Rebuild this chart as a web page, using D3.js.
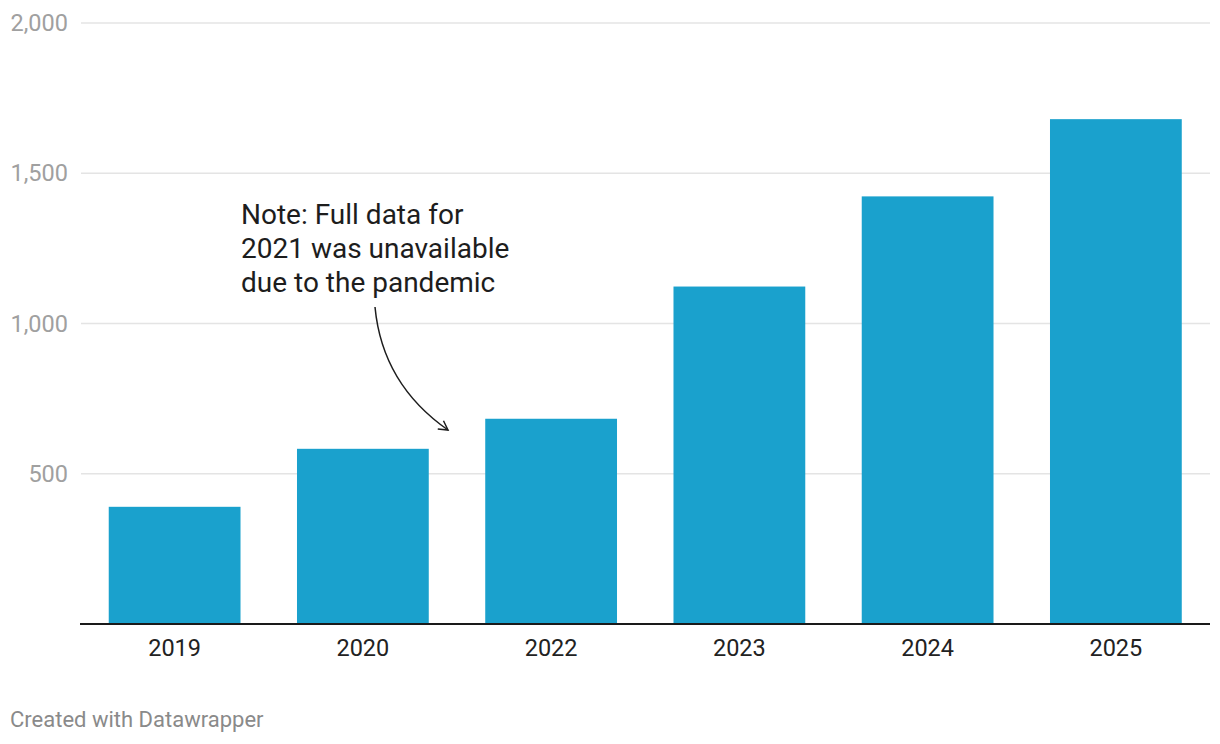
<!DOCTYPE html>
<html>
<head>
<meta charset="utf-8">
<script src="https://cdn.jsdelivr.net/npm/d3@7"></script>
<style>
  body { margin: 0; background: #fff; font-family: Roboto, "Noto Sans", sans-serif; }
</style>
</head>
<body>
<div id="chart"></div>
<script>
const years = ["2019", "2020", "2022", "2023", "2024", "2025"];
const values = [390, 583, 683, 1123, 1423, 1680];
const yTicks = [500, 1000, 1500, 2000];
const noteLines = ["Note: Full data for", "2021 was unavailable", "due to the pandemic"];

const width = 1220, height = 744;

const svg = d3.select("#chart")
    .append("svg")
    .attr("width", width)
    .attr("height", height);

const x = d3.scaleBand()
    .domain(years)
    .range([80.5, 1210])
    .paddingInner(0.3)
    .paddingOuter(0.15);

const y = d3.scaleLinear()
    .domain([0, 2000])
    .range([624, 23]);

// gridlines
svg.append("g")
    .selectAll("line")
    .data(yTicks)
    .join("line")
    .attr("x1", 81)
    .attr("x2", 1210)
    .attr("y1", d => y(d))
    .attr("y2", d => y(d))
    .attr("stroke", "#e4e4e4")
    .attr("stroke-width", 1.3);

// y labels
svg.append("g")
    .selectAll("text")
    .data(yTicks)
    .join("text")
    .attr("x", 68)
    .attr("y", d => y(d))
    .attr("dy", "0.35em")
    .attr("text-anchor", "end")
    .attr("font-size", "23.5px")
    .attr("fill", "#a0a0a0")
    .text(d => d3.format(",")(d));

// bars
svg.append("g")
    .selectAll("rect")
    .data(values)
    .join("rect")
    .attr("x", (d, i) => x(years[i]))
    .attr("y", d => y(d))
    .attr("width", x.bandwidth())
    .attr("height", d => y(0) - y(d))
    .attr("fill", "#1aa1cd");

// baseline
svg.append("line")
    .attr("x1", 80)
    .attr("x2", 1210)
    .attr("y1", y(0))
    .attr("y2", y(0))
    .attr("stroke", "#1a1a1a")
    .attr("stroke-width", 2);

// x labels
svg.append("g")
    .selectAll("text")
    .data(years)
    .join("text")
    .attr("x", d => x(d) + x.bandwidth() / 2)
    .attr("y", 656)
    .attr("text-anchor", "middle")
    .attr("font-size", "23.5px")
    .attr("fill", "#222")
    .text(d => d);

// annotation
svg.append("text")
    .attr("x", 241)
    .attr("y", 224)
    .attr("font-size", "28px")
    .attr("fill", "#1d1d1d")
    .selectAll("tspan")
    .data(noteLines)
    .join("tspan")
    .attr("x", 241)
    .attr("dy", (d, i) => i === 0 ? 0 : 34)
    .text(d => d);

const defs = svg.append("defs");
defs.append("marker")
    .attr("id", "arrow")
    .attr("viewBox", "0 0 12 12")
    .attr("refX", 10)
    .attr("refY", 6)
    .attr("markerWidth", 12)
    .attr("markerHeight", 12)
    .attr("markerUnits", "userSpaceOnUse")
    .attr("orient", "auto")
  .append("path")
    .attr("d", "M 1 1 L 10 6 L 1 11")
    .attr("fill", "none")
    .attr("stroke", "#1d1d1d")
    .attr("stroke-width", 1.5);

svg.append("path")
    .attr("d", "M 375 307 C 380 360, 405 400, 448 430")
    .attr("fill", "none")
    .attr("stroke", "#1d1d1d")
    .attr("stroke-width", 1.5)
    .attr("marker-end", "url(#arrow)");

// footer
svg.append("text")
    .attr("x", 10)
    .attr("y", 727)
    .attr("font-size", "22px")
    .attr("fill", "#8a8a8a")
    .text("Created with Datawrapper");
</script>
</body>
</html>
